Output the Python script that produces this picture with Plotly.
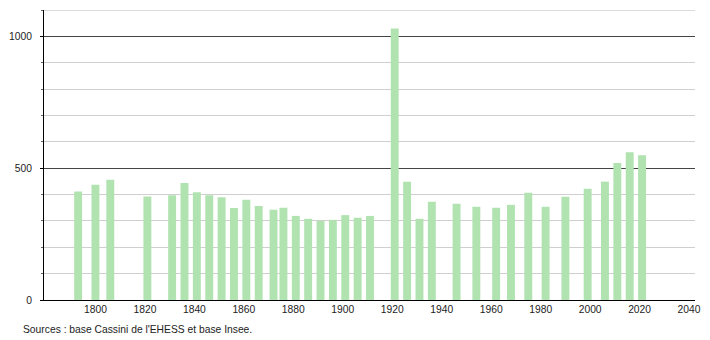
import plotly.graph_objects as go

years = [1793, 1800, 1806, 1821, 1831, 1836, 1841, 1846, 1851, 1856, 1861, 1866,
         1872, 1876, 1881, 1886, 1891, 1896, 1901, 1906, 1911, 1921, 1926, 1931,
         1936, 1946, 1954, 1962, 1968, 1975, 1982, 1990, 1999, 2006, 2011, 2016, 2021]
population = [412, 437, 456, 393, 397, 444, 409, 397, 390, 349, 380, 357,
              342, 350, 319, 308, 300, 304, 322, 312, 319, 1030, 449, 308,
              373, 365, 354, 350, 361, 407, 354, 392, 422, 449, 520, 560, 549]
x_tick_vals = [1800, 1820, 1840, 1860, 1880, 1900, 1920, 1940, 1960, 1980, 2000, 2020, 2040]
y_tick_vals = [0, 500, 1000]
y_max = 1100
source_text = "Sources : base Cassini de l'EHESS et base Insee."

fig = go.Figure()
fig.add_trace(go.Bar(
    x=years, y=population, width=3.2,
    marker=dict(color="#b1e3b1", line=dict(width=0)),
    hoverinfo="x+y",
))

fig.update_layout(
    width=710, height=340,
    margin=dict(l=43, r=9, t=10, b=40),
    paper_bgcolor="white", plot_bgcolor="white",
    font=dict(family="Liberation Sans, Arial, sans-serif", size=10.3, color="#222"),
    showlegend=False,
    xaxis=dict(
        range=[1779.2, 2042.4],
        tickvals=x_tick_vals,
        ticktext=[str(v) for v in x_tick_vals],
        showgrid=False, zeroline=False,
        showline=True, linecolor="#000", linewidth=1,
        ticks="",
    ),
    yaxis=dict(
        range=[0, y_max],
        tickvals=y_tick_vals,
        ticktext=[str(v) for v in y_tick_vals],
        showgrid=True, gridcolor="#444", gridwidth=1,
        zeroline=False,
        showline=True, linecolor="#000", linewidth=1,
        ticks="outside", ticklen=3, tickcolor="#000",
        ticklabelstandoff=6,
        minor=dict(dtick=100, tick0=0, showgrid=True, gridcolor="#cfcfcf",
                   ticks="outside", ticklen=2, tickcolor="#666"),
    ),
)

fig.add_shape(type="line", xref="paper", yref="y", x0=0, x1=1, y0=y_max - 1, y1=y_max - 1,
              line=dict(color="#cfcfcf", width=1), layer="below")

fig.add_annotation(
    text=source_text, xref="paper", yref="paper",
    x=(20 - 43) / 658, y=-(329 - 300) / 290,
    xanchor="left", yanchor="middle", showarrow=False,
    font=dict(size=10.3, color="#222"),
)

fig.write_html("out.html")
